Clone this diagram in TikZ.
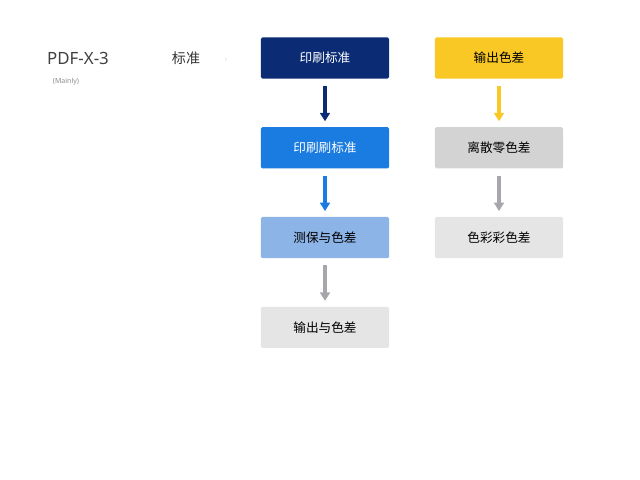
\documentclass[tikz,border=0pt]{standalone}
\usepackage{fontspec}
\setmainfont{Noto Sans}
\newfontfamily\cjk{Noto Sans CJK SC}
\usetikzlibrary{positioning,arrows.meta}
\definecolor{navy}{HTML}{0B2C74}
\definecolor{midblue}{HTML}{1A7BE0}
\definecolor{lightblue}{HTML}{8DB4E6}
\definecolor{gold}{HTML}{F9C824}
\definecolor{greyA}{HTML}{D3D3D3}
\definecolor{greyB}{HTML}{E5E5E5}
\definecolor{arrgrey}{HTML}{A5A7AB}
\begin{document}
\begin{tikzpicture}[x=0.025cm, y=-0.025cm, node distance=1.2cm,
  block/.style={minimum width=3.2cm, minimum height=1.03cm, rounded corners=1pt, font=\cjk\small},
  flow/.style={-{Triangle[width=7pt,length=6pt]}, line width=2.5pt, shorten >=4pt, shorten <=5pt}]

  \useasboundingbox (0,0) rectangle (640,480);

  % Left column
  \node[block, fill=navy, text=white] (P1) at (325,58) {印刷标准};
  \node[block, fill=midblue, text=white, below=of P1] (P2) {印刷刷标准};
  \node[block, fill=lightblue, below=of P2] (P3) {测保与色差};
  \node[block, fill=greyB, below=of P3] (P4) {输出与色差};

  % Right column
  \node[block, fill=gold] (Q1) at (499,58) {输出色差};
  \node[block, fill=greyA, below=of Q1] (Q2) {离散零色差};
  \node[block, fill=greyB, below=of Q2] (Q3) {色彩彩色差};

  % Labels
  \node[font=\large, text=black!75] (T1) at (78,58) {PDF-X-3};
  \node[font=\tiny, text=black!45] (T2) at (66,82) {(Mainly)};
  \node[font=\cjk, text=black!80] (T3) at (186,58) {标准};
  \node[font=\tiny, text=black!20] (T4) at (226,60) {›};

  % Arrows
  \draw[flow, navy] (P1) -- (P2);
  \draw[flow, midblue] (P2) -- (P3);
  \draw[flow, arrgrey] (P3) -- (P4);
  \draw[flow, gold] (Q1) -- (Q2);
  \draw[flow, arrgrey] (Q2) -- (Q3);

\end{tikzpicture}
\end{document}
